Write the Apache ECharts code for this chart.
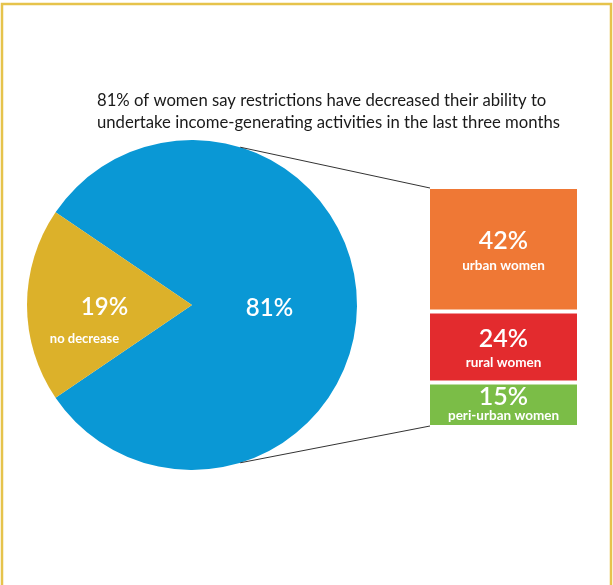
<!DOCTYPE html>
<html>
<head>
<meta charset="utf-8">
<script src="https://cdn.jsdelivr.net/npm/echarts@6/dist/echarts.min.js"></script>
<style>
  html, body { margin: 0; padding: 0; background: #ffffff; }
  #chart { width: 613px; height: 585px; }
</style>
</head>
<body>
<div id="chart"></div>
<script>
// Share of women whose income-generating activities decreased
var pieNames = ['81%', 'no decrease'];
var pieValues = [81, 19];
var pieColors = ['#0a98d5', '#dcb12a'];

// Breakdown of the 81% by location
var breakdownNames = ['urban women', 'rural women', 'peri-urban women'];
var breakdownValues = [42, 24, 15];
var breakdownColors = ['#ef7835', '#e32b2e', '#7bbd47'];

var titleText = '81% of women say restrictions have decreased their ability to\nundertake income-generating activities in the last three months';

var FONT = 'Lato, "Open Sans", sans-serif';
var PIE_CX = 192, PIE_CY = 305, PIE_R = 165;
var total = pieValues[0] + pieValues[1];

var chart = echarts.init(document.getElementById('chart'), null, { renderer: 'canvas' });

// gold slice centred on the left side
var startAngle = 180 + (pieValues[1] / total) * 360 / 2 + (pieValues[0] / total) * 360;

var pieData = [
  {
    name: pieNames[0], value: pieValues[0],
    itemStyle: { color: pieColors[0] },
    label: {
      formatter: function (p) { return p.value + '%'; },
      offset: [-8, 3],
      fontSize: 24, fontWeight: 600, color: '#ffffff', fontFamily: FONT
    }
  },
  {
    name: pieNames[1], value: pieValues[1],
    itemStyle: { color: pieColors[1] },
    label: {
      formatter: function (p) { return '{pct|' + p.value + '%}\n{name|' + p.name + '}'; },
      offset: [-22, 16],
      rich: {
        pct: { fontSize: 24, fontWeight: 600, color: '#ffffff', fontFamily: FONT, lineHeight: 36, padding: [0, 0, 0, 40] },
        name: { fontSize: 13, fontWeight: 'bold', color: '#ffffff', fontFamily: FONT, lineHeight: 28 }
      }
    }
  }
];

var barSeries = breakdownValues.map(function (v, i) {
  return {
    type: 'bar',
    stack: 'breakdown',
    name: breakdownNames[i],
    barWidth: '100%',
    silent: true,
    data: [v],
    itemStyle: { color: breakdownColors[i], borderColor: '#ffffff', borderWidth: 2 },
    label: {
      show: true,
      position: 'inside',
      offset: [0, i === 2 ? 0 : 2],
      formatter: function (p) { return '{pct|' + p.value + '%}\n{name|' + p.seriesName + '}'; },
      rich: {
        pct: { fontSize: 25, fontWeight: 600, color: '#ffffff', fontFamily: FONT, lineHeight: i === 2 ? 21 : 28, align: 'center' },
        name: { fontSize: 13.5, fontWeight: 'bold', color: '#ffffff', fontFamily: FONT, lineHeight: i === 2 ? 16 : 21, align: 'center' }
      }
    }
  };
});

var option = {
  backgroundColor: '#ffffff',
  animation: false,
  title: {
    text: titleText,
    left: 97, top: 90, padding: 0,
    textStyle: { fontSize: 16.7, fontWeight: 'normal', color: '#1a1a1a', fontFamily: FONT, lineHeight: 22 }
  },
  grid: { left: 428, top: 187, width: 151, height: 240 },
  xAxis: { type: 'category', data: ['breakdown'], show: false },
  yAxis: { type: 'value', min: 0, max: pieValues[0], inverse: true, show: false },
  series: [
    {
      type: 'pie',
      center: [PIE_CX, PIE_CY],
      radius: PIE_R,
      startAngle: startAngle,
      clockwise: true,
      silent: true,
      label: { show: true, position: 'inside' },
      labelLine: { show: false },
      itemStyle: { borderWidth: 0 },
      data: pieData
    }
  ].concat(barSeries)
};

chart.setOption(option);

// connector lines from the blue slice to the breakdown column, plus the frame
var edgeAngle = 73 * Math.PI / 180;
var pTop = [PIE_CX + PIE_R * Math.cos(edgeAngle), PIE_CY - PIE_R * Math.sin(edgeAngle)];
var pBot = [PIE_CX + PIE_R * Math.cos(edgeAngle), PIE_CY + PIE_R * Math.sin(edgeAngle)];
var boxTop = chart.convertToPixel({ gridIndex: 0 }, ['breakdown', 0]);
var boxBot = chart.convertToPixel({ gridIndex: 0 }, ['breakdown', pieValues[0]]);
var colLeft = 430;

chart.setOption({
  graphic: [
    { type: 'line', shape: { x1: pTop[0], y1: pTop[1], x2: colLeft, y2: boxTop[1] + 1 }, style: { stroke: '#333333', lineWidth: 1 }, z: 10 },
    { type: 'line', shape: { x1: pBot[0], y1: pBot[1], x2: colLeft, y2: boxBot[1] - 1 }, style: { stroke: '#333333', lineWidth: 1 }, z: 10 },
    { type: 'polyline', shape: { points: [[2, 585], [2, 4], [611, 4], [611, 585]] }, style: { stroke: '#e6c34c', lineWidth: 2.5, fill: null }, z: 10 }
  ]
});
</script>
</body>
</html>
